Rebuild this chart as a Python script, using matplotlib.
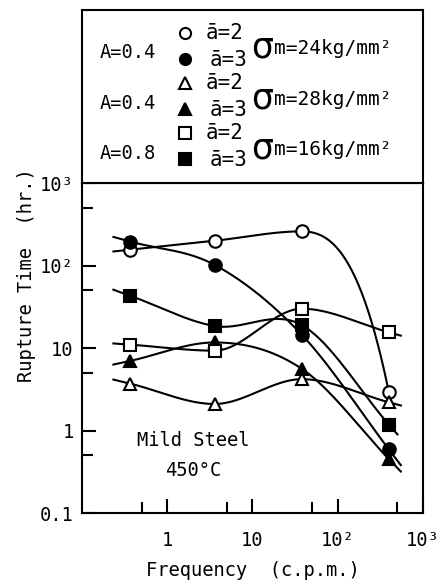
import matplotlib
matplotlib.use("Agg")
import matplotlib.pyplot as plt
import matplotlib.ticker as mticker
import numpy as np

plt.rcParams['font.family'] = ['DejaVu Sans Mono', 'DejaVu Sans']

# frequency (c.p.m.)
freq = [0.37, 3.6, 38, 400]

# rupture time (hr.)
circ_open = [156, 200, 260, 2.9]      # A=0.4, a=2, sm=24
circ_fill = [195, 102, 14.5, 0.59]    # A=0.4, a=3, sm=24
tri_open = [3.7, 2.1, 4.2, 2.2]       # A=0.4, a=2, sm=28
tri_fill = [7.0, 11.7, 5.6, 0.45]     # A=0.4, a=3, sm=28
sq_open = [11, 9.3, 30, 15.5]         # A=0.8, a=2, sm=16
sq_fill = [43, 18.5, 19, 1.18]        # A=0.8, a=3, sm=16

# (values, marker, face, right extension in decades, end slope override)
series = [
    (circ_open, 'o', 'white', 0.02, -5.0),
    (circ_fill, 'o', 'black', 0.14, None),
    (tri_open, '^', 'white', 0.14, None),
    (tri_fill, '^', 'black', 0.14, None),
    (sq_open, 's', 'white', 0.14, None),
    (sq_fill, 's', 'black', 0.1, None),
]

xticks = [1, 10, 100, 1000]
xticklabels = ['1', '10', '10²', '10³']
yticks = [0.1, 1, 10, 100, 1000]
yticklabels = ['0.1', '1', '10', '10²', '10³']
minor = [0.5, 5, 50, 500]


def smooth_curve(x, y, ext_l=0.2, ext_r=0.14, end_slope=None):
    # hand-drawn style curve through the points (cubic hermite in log-log space)
    x = np.log10(x)
    y = np.log10(y)
    d = np.diff(y) / np.diff(x)
    m = np.empty_like(y)
    m[1:-1] = (d[:-1] + d[1:]) / 2
    # flat at clear peaks / dips
    turn = (d[:-1] * d[1:] < 0) & (np.minimum(abs(d[:-1]), abs(d[1:])) > 0.05)
    m[1:-1][turn] = 0
    m[0], m[-1] = d[0], d[-1]
    if end_slope is not None:
        m[-1] = end_slope
    xs_all, ys_all = [], []
    t = np.linspace(x[0] - ext_l, x[0], 10)
    xs_all.append(t)
    ys_all.append(y[0] + m[0] * (t - x[0]))
    s = np.linspace(0, 1, 80)
    h00 = 2 * s**3 - 3 * s**2 + 1
    h10 = s**3 - 2 * s**2 + s
    h01 = -2 * s**3 + 3 * s**2
    h11 = s**3 - s**2
    for k in range(len(x) - 1):
        h = x[k + 1] - x[k]
        xs_all.append(x[k] + s * h)
        ys_all.append(h00 * y[k] + h10 * h * m[k] + h01 * y[k + 1] + h11 * h * m[k + 1])
    t = np.linspace(x[-1], x[-1] + ext_r, 10)
    xs_all.append(t)
    ys_all.append(y[-1] + m[-1] * (t - x[-1]))
    return 10**np.concatenate(xs_all), 10**np.concatenate(ys_all)


fig = plt.figure(figsize=(4.46, 5.85), dpi=100)
ax = fig.add_axes([0.184, 0.123, 0.764, 0.564])

for vals, m, fc, ext_r, es in series:
    cx, cy = smooth_curve(freq, vals, ext_r=ext_r, end_slope=es)
    ax.plot(cx, cy, color='black', lw=1.5, zorder=2)
    ax.plot(freq, vals, linestyle='none', marker=m, ms=9, mfc=fc,
            mec='black', mew=1.5, zorder=3)

ax.set_xscale('log')
ax.set_yscale('log')
ax.set_xlim(0.1, 1000)
ax.set_ylim(0.1, 1000)
ax.set_xticks(xticks)
ax.set_xticklabels(xticklabels)
ax.set_yticks(yticks)
ax.set_yticklabels(yticklabels)
ax.set_xticks(minor, minor=True)
ax.set_yticks(minor, minor=True)
ax.xaxis.set_minor_formatter(mticker.NullFormatter())
ax.yaxis.set_minor_formatter(mticker.NullFormatter())
ax.tick_params(which='major', direction='in', length=10, width=1.5, labelsize=13.5)
ax.tick_params(which='minor', direction='in', length=8, width=1.5)
ax.tick_params(axis='x', pad=13)
ax.tick_params(axis='y', pad=6)
for s in ax.spines.values():
    s.set_linewidth(1.5)

ax.set_xlabel('Frequency  (c.p.m.)', fontsize=13.5, labelpad=8)
ax.set_ylabel('Rupture Time  (hr.)', fontsize=13.5)
ax.yaxis.set_label_coords(-0.135, 0.72)
ax.text(0.325, 0.22, 'Mild Steel', transform=ax.transAxes, ha='center', va='center', fontsize=13.5)
ax.text(0.325, 0.13, '450°C', transform=ax.transAxes, ha='center', va='center', fontsize=13.5)

# legend box above the plot, in pixel-like coords
lg = fig.add_axes([0.184, 0.687, 0.764, 0.296])
lg.set_xlim(82, 423)
lg.set_ylim(183, 10)
lg.set_xticks([])
lg.set_yticks([])
for s in lg.spines.values():
    s.set_linewidth(1.5)

rows = [('A=0.4', 'o', 'm=24kg/mm²', 47),
        ('A=0.4', '^', 'm=28kg/mm²', 97),
        ('A=0.8', 's', 'm=16kg/mm²', 147)]
for a_txt, m, rest, yc in rows:
    lg.text(128, yc + 6, a_txt, ha='center', va='center', fontsize=13.5)
    lg.plot(185, yc - 14, marker=m, ms=8, mfc='white', mec='black', mew=1.5)
    lg.plot(185, yc + 12, marker=m, ms=8, mfc='black', mec='black', mew=1.5)
    lg.text(225, yc - 14, 'ā=2', ha='center', va='center', fontsize=15)
    lg.text(229, yc + 13, 'ā=3', ha='center', va='center', fontsize=15)
    lg.text(262, yc + 1, 'σ', ha='center', va='center', fontsize=25, family='DejaVu Sans')
    lg.text(274, yc + 2, rest, ha='left', va='center', fontsize=14)

fig.savefig('out.png', dpi=100)
